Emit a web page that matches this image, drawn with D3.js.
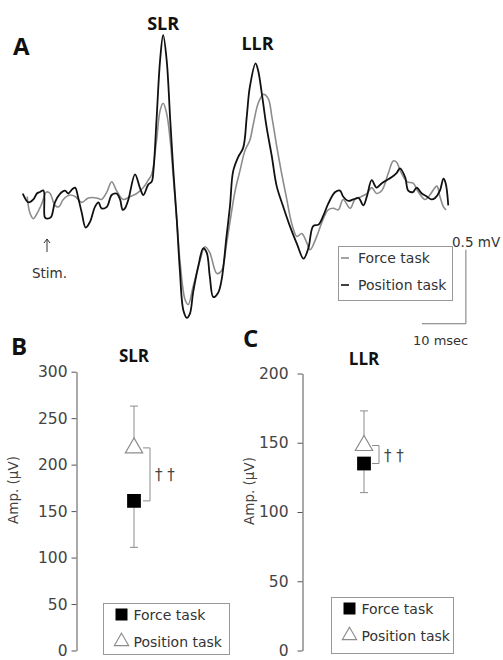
<!DOCTYPE html>
<html>
<head>
<meta charset="utf-8">
<script src="https://cdn.jsdelivr.net/npm/d3@7"></script>
<style>
  body { margin: 0; background: #fff; }
  svg { display: block; }
  text { font-family: "DejaVu Sans", sans-serif; fill: #333; }
  .bold { font-family: "Open Sans", sans-serif; font-weight: 700; fill: #111; }
</style>
</head>
<body>
<svg id="fig" width="503" height="660"></svg>
<script>
// Panel A: averaged EMG traces (time in ms from stimulus, amplitude in mV)
const forceT = [-4.5,-3.9,-3.1,-2.0,-1.2,-0.1,0.7,1.8,2.7,3.7,5.2,6.4,7.9,9.4,11.3,12.4,13.6,14.7,15.8,17.3,18.9,20.4,21.9,23.0,23.8,24.9,25.7,26.4,27.2,28.0,28.7,29.5,30.2,31.4,32.1,33.2,34.8,35.9,37.0,38.6,39.7,40.8,41.6,42.7,43.9,45.0,46.1,46.9,48.0,49.2,50.3,51.1,52.2,53.3,54.5,55.6,56.8,57.9,59.0,59.8,61.3,62.8,63.9,65.1,66.2,67.3,68.9,70.0,71.5,72.7,73.8,74.9,76.1,77.6,78.7,79.5,80.2,81.8,83.2,84.4,85.9,87.0,88.6,89.3,90.1,90.7];
const forceAmp = [-0.01,-0.12,-0.16,-0.11,-0.06,0.02,0.01,-0.07,-0.08,-0.03,0,-0.01,-0.05,-0.02,-0.02,-0.03,0.02,0.09,0.03,-0.03,-0.01,0.01,0.05,0.10,0.14,0.37,0.57,0.62,0.55,0.37,0.12,-0.17,-0.44,-0.71,-0.74,-0.62,-0.44,-0.35,-0.39,-0.53,-0.51,-0.33,-0.18,0.02,0.17,0.30,0.37,0.48,0.62,0.68,0.65,0.53,0.33,0.15,-0.03,-0.19,-0.28,-0.26,-0.32,-0.37,-0.28,-0.16,-0.10,-0.09,-0.10,-0.03,-0.09,-0.03,-0.01,0.01,0.05,0.01,0.03,0.15,0.23,0.22,0.17,0.09,0.08,0.02,-0.03,0,0.06,-0.01,-0.08,-0.10];
const positionT = [-5.5,-4.2,-3.1,-2.3,-1.6,-0.8,-0.5,0,0.9,1.8,3.0,4.1,4.8,5.8,6.4,7.1,7.9,8.8,9.8,10.9,11.7,12.4,13.6,14.7,15.8,16.6,17.2,17.7,18.5,20.0,21.1,21.9,23.0,23.8,24.2,24.9,25.7,26.4,27.2,28.0,28.7,29.5,30.2,31.0,31.8,32.5,33.2,34.4,35.5,36.3,37.0,37.8,38.9,39.7,40.8,41.6,42.3,43.5,44.6,45.4,46.1,47.4,48.0,48.8,49.9,51.1,52.2,53.7,55.2,56.8,58.3,59.4,60.5,61.7,62.8,63.9,65.5,66.6,67.3,68.5,69.6,70.8,71.9,72.7,73.8,74.9,76.1,77.2,78.3,79.5,80.2,81.4,82.1,83.2,84.0,85.2,86.3,87.4,88.2,89.3,90.1,90.6,91.2];
const positionAmp = [0.01,-0.05,-0.03,0.01,0.02,0.03,-0.15,-0.16,-0.15,-0.05,0.01,0.03,0.01,0.04,0.05,-0.02,-0.12,-0.22,-0.18,-0.08,-0.05,-0.09,-0.08,0,0.01,-0.03,-0.10,-0.09,-0.03,0.14,0.05,0,0.07,0.09,0.17,0.51,0.91,1.08,0.91,0.51,0.17,-0.17,-0.51,-0.78,-0.83,-0.80,-0.66,-0.48,-0.36,-0.39,-0.55,-0.69,-0.66,-0.57,-0.28,-0.07,0.16,0.26,0.32,0.53,0.73,0.89,0.84,0.69,0.46,0.26,0.06,-0.08,-0.21,-0.33,-0.43,-0.36,-0.21,-0.20,-0.14,-0.06,0.02,0.03,-0.01,-0.04,-0.03,-0.02,-0.07,-0.01,0.10,0.05,0.08,0.10,0.12,0.15,0.18,0.12,0.03,0.02,0.05,0.01,-0.01,-0.03,-0.02,0.03,0.11,0.08,-0.07];

// Panels B and C: mean amplitude (µV) and SD, [Force task, Position task]
const tasks = ["Force task", "Position task"];
const slrMean = [161, 218];
const slrSD = [50, 45];
const llrMean = [135, 148];
const llrSD = [21, 25];
const slrTicks = [0, 50, 100, 150, 200, 250, 300];
const llrTicks = [0, 50, 100, 150, 200];

const svg = d3.select("#fig");
const grey = "#8c8c8c";

// ---------- Panel A ----------
const x = d3.scaleLinear().domain([-5, 92]).range([25, 451.8]);
const y = d3.scaleLinear().domain([-1, 1.2]).range([343, 17.4]);

const trace = d3.line()
    .x(d => x(d[0]))
    .y(d => y(d[1]))
    .curve(d3.curveCatmullRom.alpha(0.5));

svg.append("path")
    .datum(d3.zip(forceT, forceAmp))
    .attr("fill", "none")
    .attr("stroke", grey)
    .attr("stroke-width", 1.6)
    .attr("d", trace);

svg.append("path")
    .datum(d3.zip(positionT, positionAmp))
    .attr("fill", "none")
    .attr("stroke", "#111")
    .attr("stroke-width", 1.8)
    .attr("d", trace);

svg.append("text").attr("class", "bold").attr("x", 13).attr("y", 55)
    .attr("font-size", 24).text("A");
svg.append("text").attr("class", "bold").attr("x", x(26.4)).attr("y", 30)
    .attr("text-anchor", "middle").attr("font-size", 18).text("SLR");
svg.append("text").attr("class", "bold").attr("x", x(47.4) + 2).attr("y", 50)
    .attr("text-anchor", "middle").attr("font-size", 18).text("LLR");

// stimulus marker (arrow drawn at t = 0)
const sx = x(0);
svg.append("path")
    .attr("d", `M${sx},252V239M${sx - 3},243L${sx},239L${sx + 3},243`)
    .attr("fill", "none").attr("stroke", "#333").attr("stroke-width", 1);
svg.append("text").attr("x", sx - 15).attr("y", 278)
    .attr("font-size", 13.5).text("Stim.");

// legend A
const legA = svg.append("g");
legA.append("rect").attr("x", 338.5).attr("y", 246.5).attr("width", 114).attr("height", 54)
    .attr("fill", "#fff").attr("stroke", "#999");
[[grey, "Force task", 258], ["#111", "Position task", 285]].forEach(([c, t, cy]) => {
  legA.append("line").attr("x1", 341).attr("x2", 349).attr("y1", cy).attr("y2", cy)
      .attr("stroke", c).attr("stroke-width", 1.6);
  legA.append("text").attr("x", 358).attr("y", cy + 5).attr("font-size", 14).text(t);
});

// scale bar: 0.5 mV, 10 msec
const sbT = 95.2, sbA = -0.87;
svg.append("path")
    .attr("d", `M${x(sbT - 10)},${y(sbA)}H${x(sbT)}V${y(sbA + 0.5)}`)
    .attr("fill", "none").attr("stroke", "#777").attr("stroke-width", 1);
svg.append("text").attr("x", 452).attr("y", 247).attr("font-size", 13.5).text("0.5 mV");
svg.append("text").attr("x", 413).attr("y", 345).attr("font-size", 13).text("10 msec");

// ---------- Panels B and C ----------
function dotPanel(opt) {
  const g = svg.append("g");
  const ys = d3.scaleLinear().domain([0, opt.max]).range(opt.range);

  const ax = g.append("g")
      .attr("transform", `translate(${opt.axisX},0)`)
      .call(d3.axisLeft(ys).tickValues(opt.ticks).tickSize(5).tickSizeOuter(0).tickPadding(opt.pad));
  ax.select(".domain").attr("stroke", "#555");
  ax.selectAll(".tick line").attr("stroke", "#555");
  ax.selectAll(".tick text")
      .style("font-family", "'DejaVu Sans', sans-serif")
      .style("font-size", "15.5px")
      .style("fill", "#444");

  g.append("text")
      .attr("transform", `translate(${opt.labelX},${opt.labelY}) rotate(-90)`)
      .attr("text-anchor", "middle").attr("font-size", 13.5).style("fill", "#444")
      .text("Amp. (µV)");

  g.append("text").attr("class", "bold").attr("x", opt.letterX).attr("y", opt.letterY)
      .attr("font-size", 24).text(opt.letter);
  g.append("text").attr("class", "bold").attr("x", opt.px).attr("y", opt.titleY)
      .attr("text-anchor", "middle").attr("font-size", 17).text(opt.title);

  // error bars: force task down, position task up
  opt.mean.forEach((m, i) => {
    const end = i === 0 ? m - opt.sd[i] : m + opt.sd[i];
    g.append("line").attr("x1", opt.px).attr("x2", opt.px)
        .attr("y1", ys(m)).attr("y2", ys(end)).attr("stroke", grey);
    g.append("line").attr("x1", opt.px - 4).attr("x2", opt.px + 4)
        .attr("y1", ys(end)).attr("y2", ys(end)).attr("stroke", grey);
  });

  g.append("path")
      .attr("transform", `translate(${opt.px},${ys(opt.mean[1])})`)
      .attr("d", d3.symbol(d3.symbolTriangle, 130)())
      .attr("fill", "#fff").attr("stroke", grey).attr("stroke-width", 1.2);
  g.append("path")
      .attr("transform", `translate(${opt.px},${ys(opt.mean[0])})`)
      .attr("d", d3.symbol(d3.symbolSquare, 190)())
      .attr("fill", "#000");

  // significance bracket
  const bx = opt.bracketX;
  g.append("path")
      .attr("d", `M${bx - 7},${ys(opt.mean[1])}H${bx}V${ys(opt.mean[0])}H${bx - 7}`)
      .attr("fill", "none").attr("stroke", grey);
  g.append("text").attr("x", bx + 5)
      .attr("y", (ys(opt.mean[0]) + ys(opt.mean[1])) / 2 + 6)
      .attr("font-size", 15).style("fill", "#444").text("† †");

  // legend
  const L = opt.legend;
  g.append("rect").attr("x", L.x).attr("y", L.y).attr("width", L.w).attr("height", L.h)
      .attr("fill", "#fff").attr("stroke", "#999");
  g.append("path")
      .attr("transform", `translate(${L.x + 18},${L.y + 11})`)
      .attr("d", d3.symbol(d3.symbolSquare, 144)()).attr("fill", "#000");
  g.append("text").attr("x", L.x + 30).attr("y", L.y + 16).attr("font-size", 14).text(tasks[0]);
  g.append("path")
      .attr("transform", `translate(${L.x + 18},${L.y + 38})`)
      .attr("d", d3.symbol(d3.symbolTriangle, 90)())
      .attr("fill", "#fff").attr("stroke", grey).attr("stroke-width", 1.1);
  g.append("text").attr("x", L.x + 30).attr("y", L.y + 43).attr("font-size", 14).text(tasks[1]);
}

dotPanel({
  letter: "B", letterX: 11, letterY: 355, title: "SLR", titleY: 362,
  max: 300, ticks: slrTicks, range: [650.5, 371.7], axisX: 76.5, pad: 4,
  labelX: 18, labelY: 490, px: 134, bracketX: 150,
  mean: slrMean, sd: slrSD,
  legend: { x: 103.5, y: 603.5, w: 126, h: 51 }
});

dotPanel({
  letter: "C", letterX: 243, letterY: 347, title: "LLR", titleY: 365,
  max: 200, ticks: llrTicks, range: [650.5, 373.5], axisX: 302.5, pad: 9,
  labelX: 254, labelY: 491, px: 364, bracketX: 379,
  mean: llrMean, sd: llrSD,
  legend: { x: 331.5, y: 597.5, w: 122, h: 56 }
});
</script>
</body>
</html>
